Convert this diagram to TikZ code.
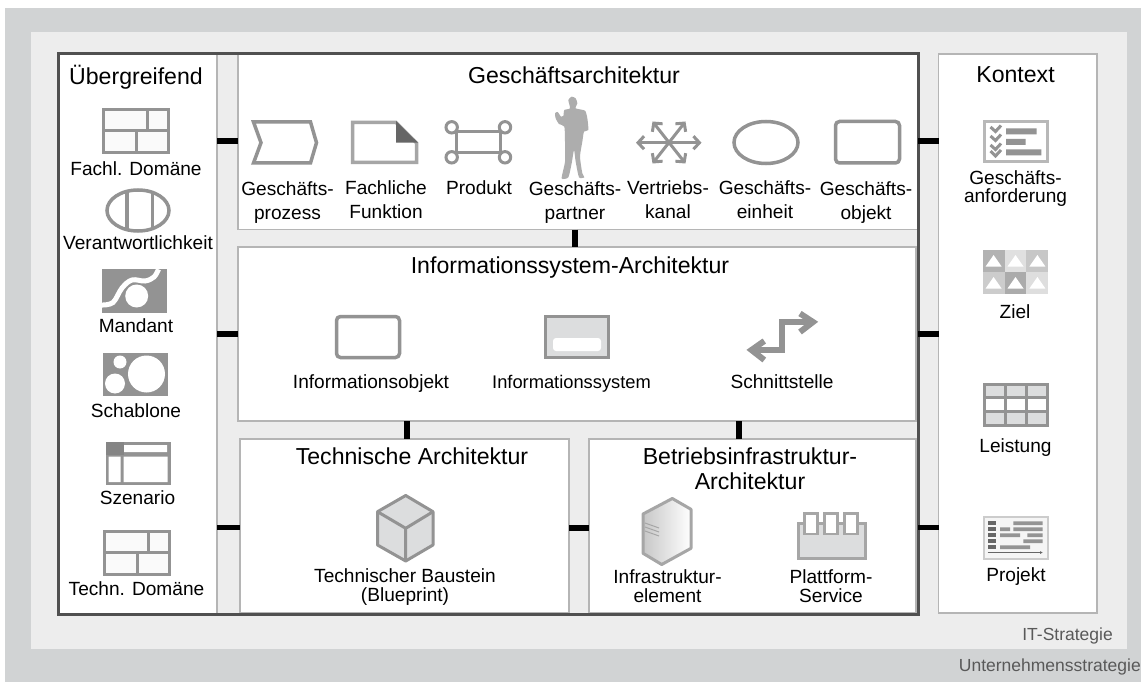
\documentclass[tikz,border=0pt]{standalone}
\usepackage{fontspec}
\setmainfont{Liberation Sans}
\usetikzlibrary{arrows.meta}
\definecolor{outerband}{HTML}{D1D3D4}
\definecolor{innerband}{HTML}{EDEDED}
\definecolor{frameline}{HTML}{505050}
\definecolor{panelline}{HTML}{B5B5B5}
\definecolor{icongray}{HTML}{939393}
\definecolor{iconpale}{HTML}{DCDDDE}
\definecolor{icondark}{HTML}{666666}
\tikzset{
  panel/.style={draw=panelline, line width=1.2pt, fill=white, inner sep=0pt, outer sep=0pt},
  bigframe/.style={draw=frameline, line width=3pt, inner sep=0pt, outer sep=0pt},
  link/.style={black, line width=5.5pt},
  headline/.style={font=\fontsize{23.1}{25}\selectfont, align=center, inner sep=0pt},
  caption/.style={font=\fontsize{19.1}{18.4}\selectfont, align=center, inner sep=0pt},
  widecaption/.style={font=\fontsize{19.1}{24}\selectfont, align=center, inner sep=0pt},
  strategy/.style={font=\fontsize{17.5}{18}\selectfont, text=black!65, inner sep=0pt},
  iconline/.style={draw=icongray, line width=3pt},
  channel/.style={draw=icongray, line width=3pt, {Straight Barb[length=6pt,width=13pt]}-{Straight Barb[length=6pt,width=13pt]}}
}
\newcommand{\domainicon}[2]{
  \begin{scope}[shift={(#1,#2)}]
    \draw [iconline, fill=black!2] (0,0) rectangle (65,43);
    \draw [iconline] (0,21) -- (65,21) (44,0) -- (44,21) (33,21) -- (33,43);
  \end{scope}
}
\begin{document}
\begin{tikzpicture}[x=1pt, y=-1pt]
  \useasboundingbox (0,0) rectangle (1141,682);
  \fill [outerband] (5,8) rectangle (1141,682);
  \fill [innerband] (31,32) rectangle (1127,649);

  \node [panel, minimum width=159pt, minimum height=560pt] (ueber) at (137.5,334) {};
  \node [panel, minimum width=680pt, minimum height=175pt] (gesch) at (578,142) {};
  \node [panel, minimum width=678pt, minimum height=174pt] (info) at (577,334) {};
  \node [panel, minimum width=329pt, minimum height=174pt] (technik) at (404.5,526) {};
  \node [panel, minimum width=327pt, minimum height=174pt] (betrieb) at (752.5,526) {};
  \node [panel, minimum width=158.5pt, minimum height=559pt] (kontext) at (1017.75,333.5) {};
  \node [bigframe, minimum width=860pt, minimum height=560pt] (rahmen) at (488,334) {};

  \draw [link] (ueber.east |- 0,141) -- (gesch.west |- 0,141);
  \draw [link] (ueber.east |- 0,334) -- (info.west |- 0,334);
  \draw [link] (ueber.east |- 0,527.5) -- (technik.west |- 0,527.5);
  \draw [link] (rahmen.east |- 0,141) -- (kontext.west |- 0,141);
  \draw [link] (rahmen.east |- 0,334) -- (kontext.west |- 0,334);
  \draw [link] (rahmen.east |- 0,527.5) -- (kontext.west |- 0,527.5);
  \draw [link] (gesch.south -| 575,0) -- (info.north -| 575,0);
  \draw [link] (info.south -| 407,0) -- (technik.north -| 407,0);
  \draw [link] (info.south -| 739,0) -- (betrieb.north -| 739,0);
  \draw [link] (technik.east |- 0,528) -- (betrieb.west |- 0,528);

  \node [headline] (uebertitle) at (136,77) {Übergreifend};
  \node [headline] (geschtitle) at (574,75.5) {Geschäftsarchitektur};
  \node [headline] (infotitle) at (570,268) {Informationssystem-Architektur};
  \node [headline] (techniktitle) at (412,456) {Technische Architektur};
  \node [headline] (betriebtitle) at (750,468.5) {Betriebsinfrastruktur-\\Architektur};
  \node [headline] (kontexttitle) at (1015.5,75) {Kontext};

  \domainicon{103}{110}
  \node [caption] (fachl) at (136,168.5) {Fachl. Domäne};
  \draw [iconline, line width=3.5pt] (138,210.5) ellipse (31 and 20.5);
  \draw [iconline, line width=3.5pt] (127,191) -- (127,230) (152.5,191) -- (152.5,230);
  \node [caption] (verant) at (138,243) {Verantwortlichkeit};
  \fill [icongray] (101.7,269.3) rectangle (166.7,312.7);
  \draw [white, line width=5pt] plot [smooth, tension=0.6] coordinates {(101.7,305) (113,302.5) (122,288) (132,280) (145,281) (154,277) (158.5,269.3)};
  \fill [white] (136.7,296) circle (11.5);
  \node [caption] (mandant) at (136,326) {Mandant};
  \fill [icongray] (103,353) rectangle (168,396);
  \fill [white] (146.5,374) circle (18.5) (120,362) circle (6.5) (115,383.5) circle (10);
  \node [caption] (schablone) at (136,411) {Schablone};
  \fill [icongray] (105.5,441.7) rectangle (170.5,485);
  \fill [icondark!80] (105.5,441.7) rectangle (124,455);
  \fill [white] (124,445) rectangle (167,452) (108.5,456.5) rectangle (120.5,482) (123.5,456.5) rectangle (167.5,482);
  \node [caption] (szenario) at (137.5,498) {Szenario};
  \domainicon{104}{531}
  \node [caption] (techn) at (136.5,588.5) {Techn. Domäne};

  \draw [iconline, line width=3.5pt] (253.5,122) -- (310.5,122) -- (316.5,142.7) -- (310.5,163) -- (253.5,163) -- (261,142.7) -- cycle;
  \node [widecaption] (prozess) at (287.5,202.5) {Geschäfts-\\prozess};
  \draw [iconline, draw=black!35, line width=3.5pt] (352.5,122.5) -- (396,122.5) -- (416.5,143) -- (416.5,162.5) -- (352.5,162.5) -- cycle;
  \fill [icondark] (396,121) -- (418,142.7) -- (396,142.7) -- cycle;
  \node [widecaption] (funktion) at (386,200) {Fachliche\\Funktion};
  \draw [iconline] (456.7,131.7) -- (500,131.7) (456.7,152.7) -- (500,152.7) (456.7,131.7) -- (456.7,152.7) (500,131.7) -- (500,152.7);
  \draw [iconline, fill=white] (451.7,127.3) circle (5.7) (505,127.3) circle (5.7) (451.7,157.3) circle (5.7) (505,157.3) circle (5.7);
  \node [caption] (produkt) at (479,188) {Produkt};
  \begin{scope}[shift={(535,90)}, x=0.33333pt, y=-0.33333pt]
    \fill [black!32] plot [smooth cycle, tension=0.35] coordinates {(100,30) (110,20) (122,25) (127,40) (122,55) (150,62) (157,85) (160,120) (147,125) (142,155) (135,200) (142,250) (148,262) (132,262) (122,215) (117,180) (110,220) (100,262) (80,265) (90,215) (90,155) (88,110) (72,102) (62,85) (60,70) (68,66) (78,80) (85,78) (88,60) (105,55)};
  \end{scope}
  \node [widecaption] (partner) at (575,202.5) {Geschäfts-\\partner};
  \draw [channel] (636,142.7) -- (701.5,142.7);
  \draw [channel] (652.5,121.5) -- (685.5,163.5);
  \draw [channel] (685.5,121.5) -- (652.5,163.5);
  \node [widecaption] (kanal) at (668,200) {Vertriebs-\\kanal};
  \draw [iconline, line width=3.5pt] (766,142.5) ellipse (32 and 21);
  \node [widecaption] (einheit) at (765,200) {Geschäfts-\\einheit};
  \draw [iconline, line width=3.5pt, rounded corners=4pt] (835.5,121.5) rectangle (899.5,163);
  \node [widecaption] (objekt) at (866,202.5) {Geschäfts-\\objekt};

  \draw [iconline, line width=3.5pt, rounded corners=4pt] (336.5,316.5) rectangle (399.5,357.5);
  \node [caption] (infoobjekt) at (371,383.5) {Informationsobjekt};
  \draw [iconline, line width=3.5pt, fill=iconpale] (545.5,316.5) rectangle (608.5,357.5);
  \fill [white, rounded corners=3pt] (553,338) rectangle (601,351);
  \node [caption, font=\fontsize{18.3}{18.4}\selectfont] (infosystem) at (571.5,383.5) {Informationssystem};
  \draw [iconline, line width=6pt] (754,350) -- (781.7,350) -- (781.7,322) -- (810,322);
  \draw [iconline, line width=6pt] (800,313.5) -- (813,322) -- (800,332);
  \draw [iconline, line width=6pt] (764.3,341) -- (751.5,350) -- (764.3,360);
  \node [caption] (schnitt) at (782,381.5) {Schnittstelle};

  \draw [iconline, fill=iconpale, line join=round] (405.7,495.5) -- (433,511.7) -- (433,545) -- (405.7,561) -- (377.5,545) -- (377.5,511.7) -- cycle;
  \draw [iconline] (377.5,511.7) -- (405.7,528.3) -- (433,511.7) (405.7,528.3) -- (405.7,561);
  \node [caption] (baustein) at (405,587) {Technischer Baustein\\(Blueprint)};

  \draw [draw=black!35, line width=3pt, left color=black!22, right color=white, line join=round] (643,514) -- (672.3,498.5) -- (691,509.3) -- (691,548.3) -- (661.7,564.5) -- (643,553.3) -- cycle;
  \draw [black!35, line width=1pt] (645,523) -- (659,528) (645,527) -- (659,532) (645,531) -- (659,536);
  \node [caption] (element) at (667.5,586) {Infrastruktur-\\element};
  \draw [draw=black!35, line width=3pt, fill=iconpale] (798,523.5) -- (865,523.5) -- (865,558) -- (798,558) -- cycle;
  \draw [draw=black!35, line width=2.5pt, fill=white] (804.5,513.5) rectangle (817.5,534) (824.5,513.5) rectangle (837.5,534) (844.5,513.5) rectangle (857.5,534);
  \node [caption] (plattform) at (831,586) {Plattform-\\Service};

  \draw [draw=black!28, line width=3pt] (984,121.5) rectangle (1047,162);
  \draw [icongray, line width=3pt] (990.5,127) -- (995.5,131.5) -- (1001,125.5) (990.5,136) -- (995.5,140.5) -- (1001,134.5) (990.5,145) -- (995.5,149.5) -- (1001,143.5) (990.5,151) -- (995.5,156) -- (1001,150);
  \fill [icongray] (1006,128.3) rectangle (1036.7,134.3) (1006,139) rectangle (1025.7,145) (1006,149.3) rectangle (1041.3,155.3);
  \node [caption] (anforderung) at (1015.5,188.5) {Geschäfts-\\anforderung};

  \fill [black!30] (982.7,250) rectangle (1004.6,272);
  \fill [black!12] (1004.6,250) rectangle (1026.4,272);
  \fill [black!22] (1026.4,250) rectangle (1048.3,272);
  \fill [black!20] (982.7,272) rectangle (1004.6,294);
  \fill [black!33] (1004.6,272) rectangle (1026.4,294);
  \fill [black!13] (1026.4,272) rectangle (1048.3,294);
  \foreach \zx in {993.6,1015.5,1037.4}
    \foreach \zy in {261,283}
      \fill [white] (\zx-8,\zy+5.5) -- (\zx,\zy-6) -- (\zx+8,\zy+5.5) -- cycle;
  \node [caption] (ziel) at (1015,311.5) {Ziel};

  \draw [iconline, fill=white] (984,384) rectangle (1047,425);
  \fill [iconpale] (984,384) rectangle (1047,397.7) (984,411.3) rectangle (1047,425);
  \draw [iconline] (984,384) rectangle (1047,425) (984,397.7) -- (1047,397.7) (984,411.3) -- (1047,411.3) (1005,384) -- (1005,425) (1026,384) -- (1026,425);
  \node [caption] (leistung) at (1015.5,447.5) {Leistung};

  \draw [draw=black!20, line width=2pt, fill=black!4] (983.5,516.5) rectangle (1047.5,558.5);
  \foreach \py in {521.3,527.3,533.3,539.3,545.3}
    \fill [icondark] (987.7,\py) rectangle (996,\py+3.7);
  \fill [black!42] (1013.3,521.3) rectangle (1042.7,525) (1000,527.3) rectangle (1010,531) (1013.3,527.3) rectangle (1042.7,531) (1000,533.3) rectangle (1020,537) (1027.3,533.3) rectangle (1042.7,537) (1023.3,539.3) rectangle (1042.7,543) (1000,545.3) rectangle (1030,549);
  \coordinate (zeitstart) at (987.7,552.5);
  \coordinate (zeitende) at (1043,552.5);
  \draw [-{Latex[length=3pt,width=3pt]}, icondark, line width=0.7pt] (zeitstart) -- (zeitende);
  \node [caption] (projekt) at (1016,577) {Projekt};

  \node [strategy, anchor=east] (itstrat) at (1113,636) {IT-Strategie};
  \node [strategy, anchor=east] (unternehmen) at (1141,667) {Unternehmensstrategie};
\end{tikzpicture}
\end{document}
